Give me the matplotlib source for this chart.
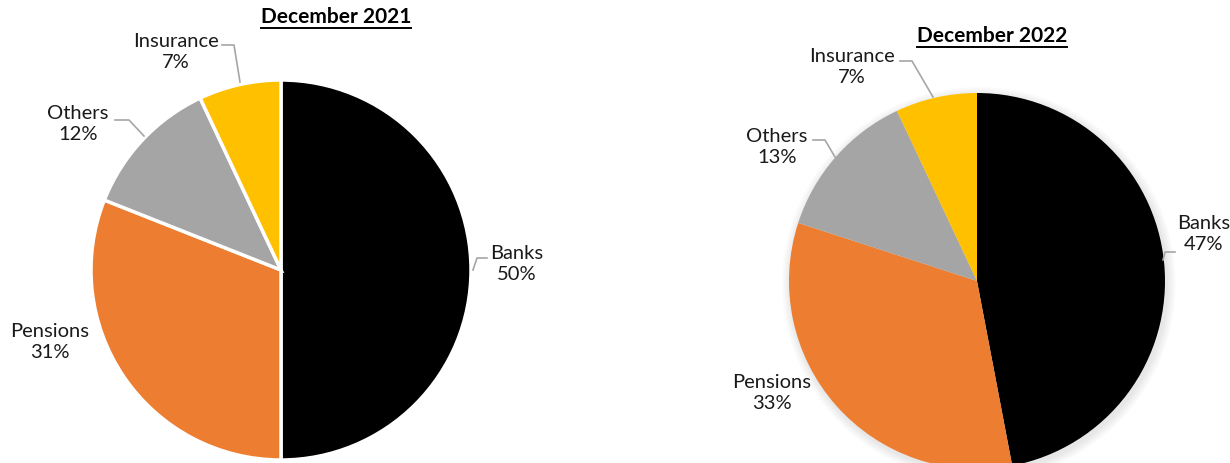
import numpy as np
import matplotlib.pyplot as plt
import matplotlib
from matplotlib.patches import Circle

matplotlib.rcParams.update({'font.family': ['Lato', 'DejaVu Sans'], 'font.size': 14})

W, H = 1230, 463

sectors = ['Banks', 'Pensions', 'Others', 'Insurance']
share_2021 = [50, 31, 12, 7]
share_2022 = [47, 33, 13, 7]
colors = ['#000000', '#ED7D31', '#A5A5A5', '#FFC000']


def fx(x):
    return x / W


def fy(y):
    return 1 - y / H


fig = plt.figure(figsize=(W / 100, H / 100), dpi=100)


def pie_axes(cx, cy, r):
    ax = fig.add_axes([fx(cx - r), fy(cy + r), 2 * r / W, 2 * r / H])
    ax.axis('off')
    return ax


def fix_limits(ax):
    ax.set_xlim(-1, 1)
    ax.set_ylim(-1, 1)
    ax.set_aspect('equal')


# left pie (white separators)
ax1 = pie_axes(281, 270, 190)
ax1.pie(share_2021, colors=colors, startangle=90, counterclock=False, radius=1,
        wedgeprops=dict(edgecolor='white', linewidth=2.5))
fix_limits(ax1)

# right pie (soft shadow, no separators)
ax2 = pie_axes(977, 281, 188)
for k in range(8):
    ax2.add_patch(Circle((0.01, -0.015), 1 + 0.006 * (8 - k), color='black',
                         alpha=0.012, lw=0, zorder=0, clip_on=False))
wedges, _ = ax2.pie(share_2022, colors=colors, startangle=90, counterclock=False,
                    radius=1, wedgeprops=dict(linewidth=0))
for w in wedges:
    w.set_clip_on(False)
fix_limits(ax2)

lead = '#A6A6A6'


def label(x, y, name, val):
    fig.text(fx(x), fy(y), f'{name}\n{val}%', ha='center', va='center',
             fontsize=14.5, linespacing=1.35, color='#1a1a1a')


def leader(pts):
    xs = [fx(p[0]) for p in pts]
    ys = [fy(p[1]) for p in pts]
    fig.add_artist(plt.Line2D(xs, ys, color=lead, lw=1.2))


# December 2021 labels
label(517, 264, sectors[0], share_2021[0])
label(50, 342, sectors[1], share_2021[1])
label(78, 124, sectors[2], share_2021[2])
label(176, 52, sectors[3], share_2021[3])
leader([(487, 258), (477, 258), (473, 270)])
leader([(115, 120), (129, 120), (144, 136)])
leader([(222, 45), (234, 45), (240, 82)])

# December 2022 labels
label(1204, 234, sectors[0], share_2022[0])
label(772, 393, sectors[1], share_2022[1])
label(777, 147, sectors[2], share_2022[2])
label(852, 67, sectors[3], share_2022[3])
leader([(1175, 252), (1165, 252), (1163, 260)])
leader([(813, 140), (825, 140), (835, 157)])
leader([(900, 61), (912, 61), (933, 97)])


def title(x, y, s):
    t = fig.text(fx(x), fy(y), s, ha='center', va='center', fontsize=15,
                 fontweight='bold', color='black')
    fig.canvas.draw()
    bb = t.get_window_extent()
    yl = bb.y0 - 1
    fig.add_artist(plt.Line2D([bb.x0 / W, bb.x1 / W], [yl / H, yl / H],
                              color='black', lw=1.4))


title(336, 17, 'December 2021')
title(992, 36, 'December 2022')

fig.savefig('out.png', dpi=100)
